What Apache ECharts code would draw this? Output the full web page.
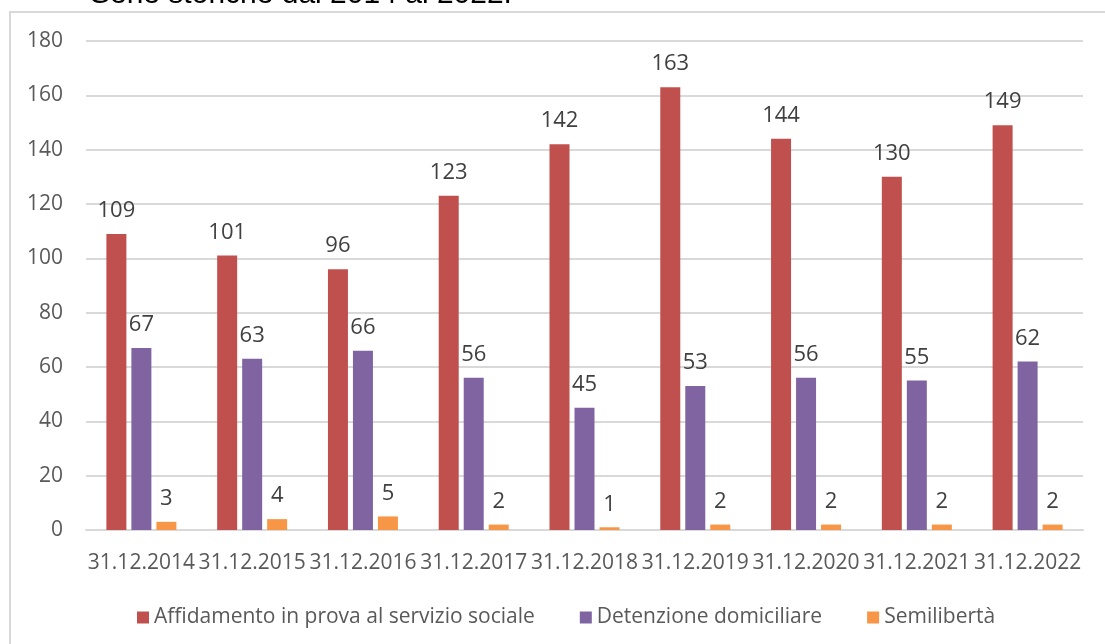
<!DOCTYPE html>
<html>
<head>
<meta charset="utf-8">
<script src="https://cdn.jsdelivr.net/npm/echarts@6/dist/echarts.min.js"></script>
<style>html,body{margin:0;padding:0;background:#fff;}#c{width:1105px;height:644px;}</style>
</head>
<body>
<div id="c"></div>
<script>
var categories = ['31.12.2014','31.12.2015','31.12.2016','31.12.2017','31.12.2018','31.12.2019','31.12.2020','31.12.2021','31.12.2022'];
var affidamento = [109,101,96,123,142,163,144,130,149];
var detenzione = [67,63,66,56,45,53,56,55,62];
var semiliberta = [3,4,5,2,1,2,2,2,2];
var seriesNames = ['Affidamento in prova al servizio sociale','Detenzione domiciliare','Semilibertà'];
var titleText = 'Serie storiche dal 2014 al 2022.';

var FONT = '"Open Sans"';
var chart = echarts.init(document.getElementById('c'), null, {renderer:'canvas'});
function mk(name, data, color){
  return {
    name: name, type: 'bar', data: data, barWidth: 20, barGap: '25%',
    itemStyle: {color: color},
    label: {show: true, position: 'top', distance: 12, color: '#404040', fontFamily: FONT, fontSize: 22},
    emphasis: {disabled: true}
  };
}
chart.setOption({
  animation: false,
  graphic: [
    {type: 'rect', shape: {x: 10, y: 12, width: 1200, height: 700}, style: {fill: 'none', stroke: '#d9d9d9', lineWidth: 2}},
    {type: 'text', x: 90, y: -5.5, style: {text: titleText, font: '30px "Liberation Sans", Arial', fill: '#000', textVerticalAlign: 'middle'}}
  ],
  grid: {left: 86, right: 22, top: 41, bottom: 114, containLabel: false},
  legend: {
    left: 132, top: 602, itemWidth: 12, itemHeight: 12, itemGap: 45,
    icon: 'rect',
    textStyle: {color: '#595959', fontFamily: FONT, fontSize: 21},
    data: seriesNames
  },
  xAxis: {
    type: 'category', data: categories,
    axisLine: {lineStyle: {color: '#d9d9d9', width: 2}},
    axisTick: {show: false},
    axisLabel: {interval: 0, color: '#595959', fontFamily: FONT, fontSize: 21, margin: 23}
  },
  yAxis: {
    type: 'value', min: 0, max: 180, interval: 20,
    axisLine: {show: false}, axisTick: {show: false},
    splitLine: {lineStyle: {color: '#d9d9d9', width: 2}},
    axisLabel: {color: '#595959', fontFamily: FONT, fontSize: 21, margin: 23}
  },
  series: [
    mk(seriesNames[0], affidamento, '#C0504D'),
    mk(seriesNames[1], detenzione, '#8064A2'),
    mk(seriesNames[2], semiliberta, '#F79646')
  ]
});
</script>
</body>
</html>
